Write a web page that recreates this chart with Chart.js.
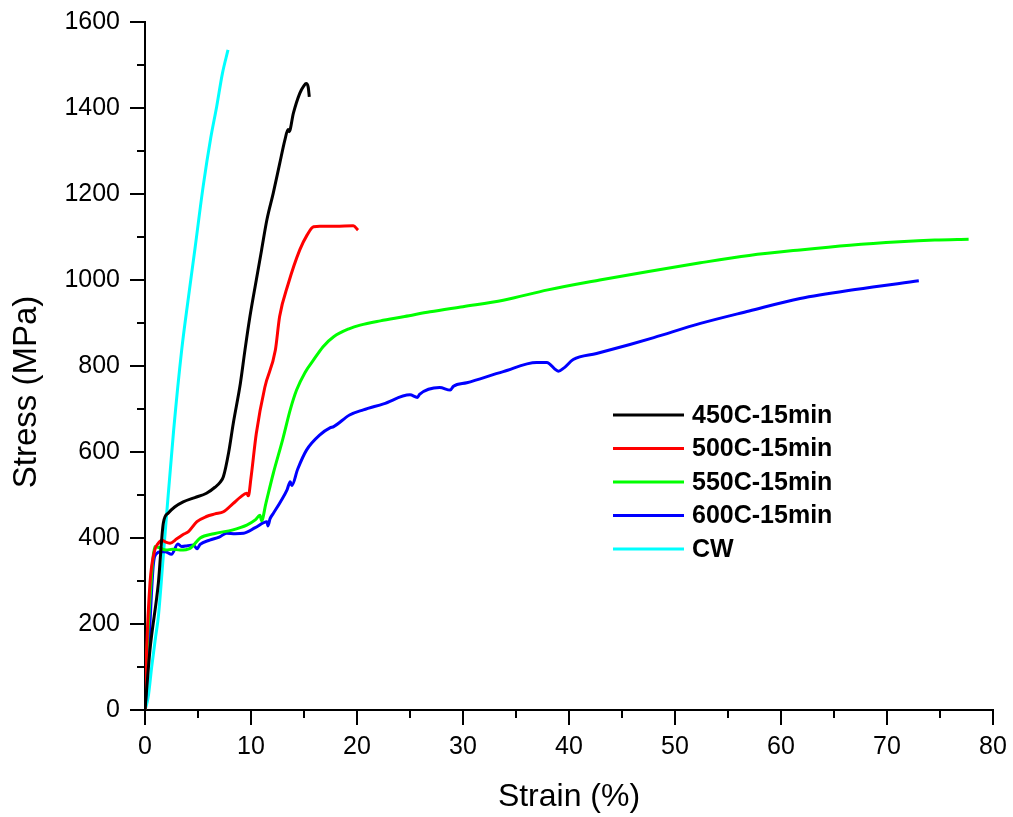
<!DOCTYPE html>
<html>
<head>
<meta charset="utf-8">
<script src="https://cdn.jsdelivr.net/npm/chart.js@4"></script>
<style>
  body { margin: 0; background: #fff; }
  #wrap { width: 1013px; height: 817px; }
</style>
</head>
<body>
<div id="wrap"><canvas id="stressGraph" width="1013" height="817"></canvas></div>
<script>
// Series labels and colours
const seriesNames = ['450C-15min', '500C-15min', '550C-15min', '600C-15min', 'CW'];
const seriesColors = ['#000000', '#ff0000', '#00ff00', '#0000ff', '#00ffff'];

// Strain (%) / Stress (MPa)
const strain450 = [0, 0.47, 1.26, 1.73, 2.2, 2.8, 3.6, 4.7, 5.8, 6.6, 7.1, 7.4, 7.9, 8.33, 9.0, 9.43, 9.9, 10.5, 11.0, 11.5, 12.1, 12.7, 13.2, 13.5, 13.6, 14.0, 14.6, 15.0, 15.2, 15.4, 15.5];
const stress450 = [0, 140, 295, 435, 458, 472, 484, 494, 504, 518, 530, 543, 600, 667, 760, 837, 915, 1000, 1070, 1140, 1202, 1270, 1326, 1350, 1345, 1388, 1434, 1452, 1457, 1448, 1426];

const strain500 = [0, 0.1, 0.47, 0.9, 1.26, 1.6, 1.9, 2.36, 3.0, 3.6, 4.1, 4.9, 5.8, 6.6, 7.4, 8.3, 9.0, 9.6, 9.75, 10.0, 10.5, 11.3, 12.3, 12.7, 13.5, 14.6, 15.3, 15.9, 16.5, 18.0, 19.65, 20.1];
const stress500 = [0, 100, 295, 370, 388, 395, 391, 388, 398, 408, 415, 438, 450, 456, 461, 480, 495, 504, 498, 540, 643, 750, 837, 915, 990, 1070, 1105, 1124, 1125, 1125, 1126, 1116];

const strain550 = [0, 0.1, 0.5, 0.94, 1.3, 2.0, 2.6, 3.3, 4.25, 5.2, 6.5, 8.3, 9.6, 10.4, 10.85, 11.0, 11.4, 12.1, 13.0, 13.7, 14.3, 15.1, 15.9, 16.8, 17.8, 19.3, 20.3, 22.2, 24.5, 26.9, 30, 33.8, 38, 42.9, 47.5, 52.4, 57, 61.8, 66.5, 71.2, 74.5, 77.7];
const stress550 = [0, 90, 270, 380, 378, 372, 374, 372, 376, 400, 410, 419, 430, 442, 453, 440, 480, 550, 630, 698, 744, 785, 814, 845, 868, 887, 895, 905, 915, 926, 938, 953, 977, 1000, 1020, 1040, 1057, 1070, 1081, 1089, 1093, 1095];

const strain600 = [0, 0.3, 0.8, 1.1, 1.5, 1.9, 2.5, 3.1, 3.45, 4.0, 4.56, 4.9, 5.2, 6.1, 7.0, 7.7, 8.5, 9.3, 10.4, 11.5, 11.6, 11.8, 12.1, 12.8, 13.4, 13.7, 13.85, 14.4, 15.25, 16.5, 17.45, 17.8, 19.3, 20.6, 22.5, 25.0, 25.7, 25.9, 27.8, 28.8, 29.1, 30.35, 33.8, 36.95, 37.9, 39.0, 39.5, 40.4, 42.6, 45.75, 48.0, 52.4, 57, 61.8, 67, 73.0];
const stress600 = [0, 120, 341, 364, 368, 368, 362, 386, 380, 382, 384, 375, 385, 395, 402, 411, 410, 411, 424, 438, 428, 445, 457, 485, 512, 531, 522, 560, 605, 640, 656, 659, 686, 698, 712, 733, 727, 734, 750, 744, 753, 761, 787, 808, 808, 788, 795, 815, 829, 850, 866, 899, 928, 957, 978, 998];

const strainCW = [0, 0.3, 0.63, 1.0, 1.26, 1.7, 2.05, 2.7, 3.46, 4.1, 4.72, 5.5, 6.2, 6.76, 7.3, 7.83];
const stressCW = [0, 30, 100, 170, 217, 350, 458, 650, 837, 960, 1074, 1220, 1330, 1403, 1480, 1535];

const xTicks = [0, 10, 20, 30, 40, 50, 60, 70, 80];
const yTicks = [0, 200, 400, 600, 800, 1000, 1200, 1400, 1600];

const allStrain = [strain450, strain500, strain550, strain600, strainCW];
const allStress = [stress450, stress500, stress550, stress600, stressCW];

function toPoints(xs, ys) {
    return xs.map((x, i) => ({ x: x, y: ys[i] }));
}

const FONT = '"Liberation Sans", Arial, Helvetica, sans-serif';

// Minor + major tick marks drawn outward (Chart.js has no minor ticks)
const tickMarks = {
    id: 'tickMarks',
    afterDraw(chart) {
        const c = chart.ctx;
        const xs = chart.scales.x, ys = chart.scales.y;
        const area = chart.chartArea;
        c.save();
        c.strokeStyle = '#000';
        c.lineWidth = 2;
        c.beginPath();
        for (let v = xs.min; v <= xs.max; v += 5) {
            const px = Math.round(xs.getPixelForValue(v));
            const len = xTicks.includes(v) ? 15 : 8;
            c.moveTo(px, area.bottom);
            c.lineTo(px, area.bottom + len);
        }
        for (let v = ys.min; v <= ys.max; v += 100) {
            const py = Math.round(ys.getPixelForValue(v));
            const len = yTicks.includes(v) ? 15 : 8;
            c.moveTo(area.left, py);
            c.lineTo(area.left - len, py);
        }
        c.stroke();

        // y title sits a bit below the centre of the axis, like the original
        c.fillStyle = '#000';
        c.font = '33px ' + FONT;
        c.textAlign = 'center';
        c.textBaseline = 'middle';
        c.translate(27, area.top + (area.bottom - area.top) / 2 + 26);
        c.rotate(-Math.PI / 2);
        c.fillText('Stress (MPa)', 0, 0);
        c.restore();
    }
};

// Legend sitting inside the plot area
const insideLegend = {
    id: 'insideLegend',
    afterDraw(chart) {
        const c = chart.ctx;
        const area = chart.chartArea;
        const x0 = area.left + 468;
        const y0 = area.top + 393;
        const step = 33.5;
        c.save();
        c.font = 'bold 25px ' + FONT;
        c.textBaseline = 'middle';
        c.textAlign = 'left';
        seriesNames.forEach((name, i) => {
            const y = y0 + i * step;
            c.strokeStyle = seriesColors[i];
            c.lineWidth = 3;
            c.beginPath();
            c.moveTo(x0, y);
            c.lineTo(x0 + 71, y);
            c.stroke();
            c.fillStyle = '#000';
            c.fillText(name, x0 + 79, y + 1);
        });
        c.restore();
    }
};

function noEdgePadding(scale) {
    scale.paddingTop = 0;
    scale.paddingBottom = 0;
    scale.paddingLeft = 0;
    scale.paddingRight = 0;
}

const ctx = document.getElementById('stressGraph').getContext('2d');
const stressGraph = new Chart(ctx, {
    type: 'line',
    data: {
        datasets: seriesNames.map((name, i) => ({
            label: name,
            data: toPoints(allStrain[i], allStress[i]),
            borderColor: seriesColors[i],
            backgroundColor: seriesColors[i],
            borderWidth: 3,
            pointRadius: 0,
            cubicInterpolationMode: 'monotone',
            fill: false,
        })),
    },
    options: {
        responsive: false,
        animation: false,
        layout: { padding: { top: 22, right: 20, left: 0, bottom: 0 } },
        plugins: {
            legend: { display: false },
            tooltip: { enabled: false },
        },
        scales: {
            x: {
                type: 'linear',
                min: 0,
                max: 80,
                afterFit: (scale) => { scale.height = 107; noEdgePadding(scale); },
                afterBuildTicks: (scale) => { scale.ticks = xTicks.map(v => ({ value: v })); },
                grid: { display: false, drawTicks: false },
                border: { display: true, color: '#000', width: 2 },
                ticks: {
                    padding: 22,
                    color: '#000',
                    font: { family: FONT, size: 25 },
                    maxRotation: 0,
                    callback: (v) => String(v),
                },
                title: {
                    display: true,
                    text: 'Strain (%)',
                    color: '#000',
                    font: { family: FONT, size: 32 },
                    padding: { top: 0, bottom: 1 },
                },
            },
            y: {
                type: 'linear',
                min: 0,
                max: 1600,
                afterFit: (scale) => { scale.width = 145; noEdgePadding(scale); },
                afterBuildTicks: (scale) => { scale.ticks = yTicks.map(v => ({ value: v })); },
                grid: { display: false, drawTicks: false },
                border: { display: true, color: '#000', width: 2 },
                ticks: {
                    padding: 25,
                    color: '#000',
                    font: { family: FONT, size: 25 },
                    callback: (v) => String(v),
                },
                title: { display: false },
            },
        },
    },
    plugins: [tickMarks, insideLegend],
});
</script>
</body>
</html>
